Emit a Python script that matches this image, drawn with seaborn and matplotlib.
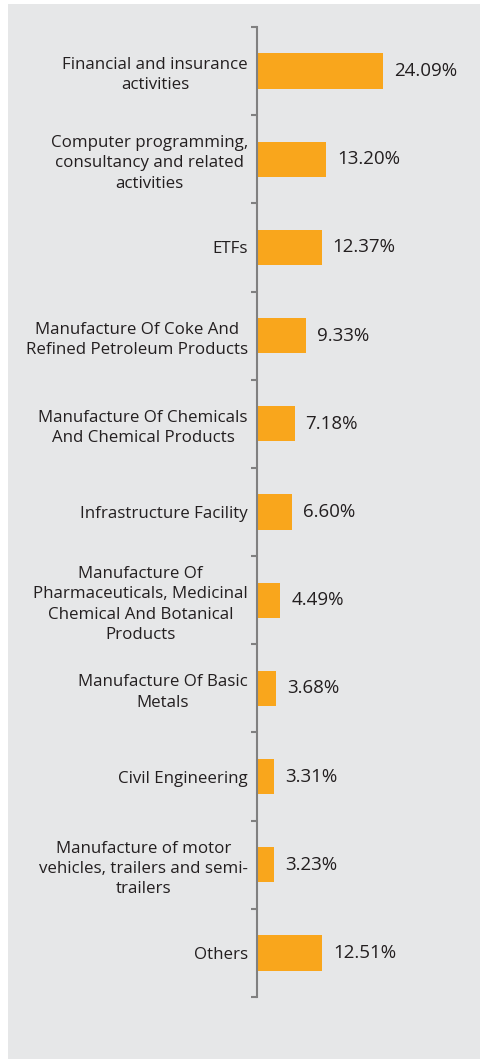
import matplotlib
matplotlib.use("Agg")
import matplotlib.pyplot as plt
import seaborn as sns
import pandas as pd
from matplotlib.patches import Rectangle

# sector allocation (% of portfolio)
sectors = [
    "Financial and insurance\nactivities",
    "Computer programming,\nconsultancy and related\nactivities",
    "ETFs",
    "Manufacture Of Coke And\nRefined Petroleum Products",
    "Manufacture Of Chemicals\nAnd Chemical Products",
    "Infrastructure Facility",
    "Manufacture Of\nPharmaceuticals, Medicinal\nChemical And Botanical\nProducts",
    "Manufacture Of Basic\nMetals",
    "Civil Engineering",
    "Manufacture of motor\nvehicles, trailers and semi-\ntrailers",
    "Others",
]
weights = [24.09, 13.20, 12.37, 9.33, 7.18, 6.60, 4.49, 3.68, 3.31, 3.23, 12.51]

df = pd.DataFrame({"sector": sectors, "weight": weights})

BG = "#e6e7e8"
BAR = "#f9a61c"
TXT = "#231f20"
AXC = "#808080"

sns.set_theme(style="white")
plt.rcParams["font.family"] = ["Open Sans", "DejaVu Sans"]

fig = plt.figure(figsize=(4.81, 10.59), dpi=100, facecolor="white")
fig.patches.append(Rectangle((8 / 481, 0), 1, 1 - 4 / 1059, transform=fig.transFigure,
                             facecolor=BG, edgecolor="none", zorder=-10))
ax = fig.add_axes([257 / 481, 62 / 1059, 1 - 257 / 481, (997 - 27) / 1059])
ax.set_zorder(5)
ax.set_facecolor("none")

sns.barplot(data=df, y="sector", x="weight", orient="h", color=BAR,
            width=0.4, saturation=1, linewidth=0, ax=ax)

for p, v in zip(ax.patches, weights):
    ax.text(p.get_width() + 2.1, p.get_y() + p.get_height() / 2, f"{v:.2f}%",
            va="center", ha="left", fontsize=13.5, color=TXT)

ax.set_xlim(0, 42.8)
ax.set_ylim(len(sectors) - 0.5, -0.5)
ax.set_xlabel("")
ax.set_ylabel("")
ax.set_xticks([])
for s in ["top", "right", "bottom"]:
    ax.spines[s].set_visible(False)
ax.spines["left"].set_color(AXC)
ax.spines["left"].set_linewidth(1.5)

ax.tick_params(axis="y", which="major", length=0, pad=6.5, labelsize=12.2, labelcolor=TXT)
for lab in ax.get_yticklabels():
    lab.set_multialignment("center")
    lab.set_linespacing(1.36)
ax.set_yticks([i - 0.5 for i in range(len(sectors) + 1)], minor=True)
ax.tick_params(axis="y", which="minor", length=4, width=1.5, color=AXC, left=True)

fig.savefig("out.png", dpi=100, facecolor="white")
